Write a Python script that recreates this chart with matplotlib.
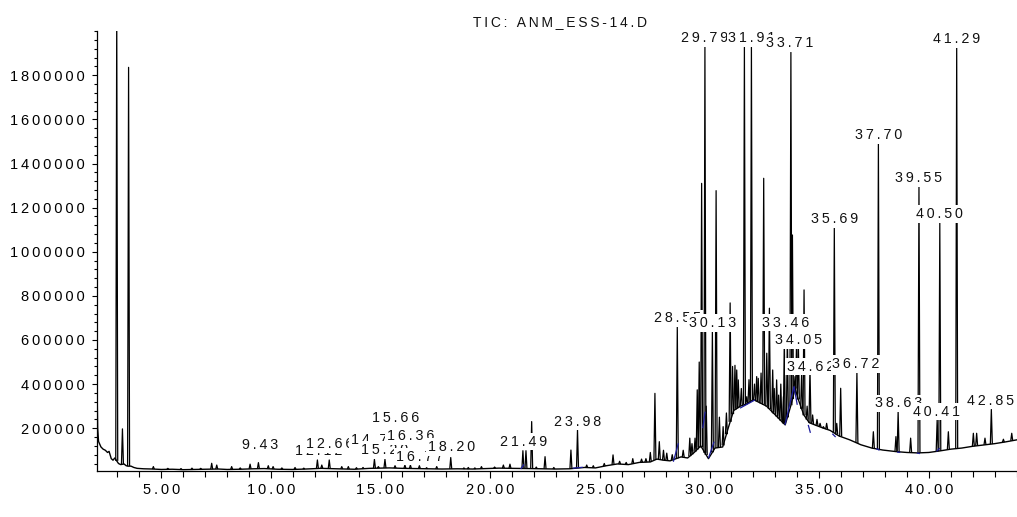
import numpy as np
import matplotlib
matplotlib.use("Agg")
import matplotlib.pyplot as plt
from matplotlib.collections import LineCollection
from matplotlib.ticker import FixedLocator, MultipleLocator, FuncFormatter

plt.rcParams['font.family'] = ['Liberation Sans', 'DejaVu Sans']

title = "TIC: ANM_ESS-14.D"

# baseline of the trace (min, abundance)
base_t = [2.07, 2.10, 2.14, 2.25, 2.35, 2.45, 2.55, 2.62, 2.72, 2.80, 2.88, 3.05, 3.15, 3.30,
          3.40, 3.48, 3.62, 3.75, 3.90, 4.20, 4.60, 5.00, 5.50, 6.00, 6.50, 7.00, 7.60, 8.00,
          8.60, 9.20, 9.70, 10.3, 11.0, 11.6, 12.3, 13.0, 13.8, 14.5, 15.4, 16.0, 16.6, 17.2,
          17.8, 18.5, 19.2, 19.8, 20.4, 21.0, 21.8, 22.4, 23.0, 23.6, 24.3, 24.8, 25.3, 25.8,
          26.3, 26.8, 27.3, 27.6, 27.9, 28.2, 28.7, 29.0, 29.3, 29.6, 29.95, 30.25, 30.6, 30.85,
          31.1, 31.4, 31.7, 32.0, 32.3, 32.6, 32.9, 33.2, 33.45, 33.7, 33.9, 34.05, 34.3, 34.55,
          34.8, 35.2, 35.5, 35.9, 36.4, 36.9, 37.4, 37.9, 38.5, 39.0, 39.5, 40.0, 40.5, 41.0,
          41.5, 42.0, 42.5, 43.0, 43.5, 44.0]
base_v = [400000, 200000, 140000, 115000, 105000, 100000, 90000, 95000, 62000, 55000, 65000,
          40000, 35000, 38000, 30000, 28000, 28000, 22000, 18000, 16000, 15000, 13000, 14000,
          12000, 13000, 14000, 15000, 13000, 14000, 16000, 17000, 14000, 13000, 15000, 18000,
          16000, 14000, 18000, 20000, 18000, 17000, 16000, 15000, 16000, 15000, 17000, 19000,
          18000, 17000, 16000, 15000, 16000, 22000, 20000, 30000, 38000, 35000, 45000, 47000,
          60000, 55000, 52000, 70000, 65000, 90000, 120000, 62000, 110000, 115000, 200000,
          280000, 300000, 310000, 330000, 315000, 300000, 270000, 240000, 215000, 300000,
          380000, 330000, 260000, 225000, 215000, 200000, 190000, 165000, 147000, 125000,
          110000, 101000, 94000, 90000, 88000, 90000, 97000, 105000, 110000, 118000, 124000,
          130000, 138000, 147000]

# peaks (retention time, apex abundance)
peak_t = [2.97, 3.23, 3.51, 4.64, 5.30, 5.90, 6.40, 6.80, 7.30, 7.53, 8.21, 8.60, 9.05, 9.43,
          9.88, 10.10, 10.50, 11.10, 11.50, 12.12, 12.32, 12.66, 13.23, 13.53, 13.90, 14.20,
          14.72, 14.90, 15.20, 15.66, 16.11, 16.36, 16.77, 17.10, 17.56, 18.20, 18.80, 19.00,
          19.30, 19.60, 20.20, 20.60, 20.90, 21.49, 21.63, 21.89, 22.10, 22.50, 22.90, 23.68,
          23.98, 24.40, 24.70, 25.20, 25.60, 25.90, 26.20, 26.50, 26.90, 27.10, 27.30, 27.51,
          27.71, 27.90, 28.05, 28.30, 28.53, 28.80, 29.10, 29.20, 29.34, 29.44, 29.53, 29.64,
          29.79, 29.85, 30.13, 30.30, 30.45, 30.62, 30.77, 30.94, 31.05, 31.16, 31.24, 31.31,
          31.45, 31.59, 31.70, 31.80, 31.91, 32.05, 32.15, 32.22, 32.35, 32.47, 32.61, 32.73,
          32.88, 32.95, 33.06, 33.15, 33.25, 33.37, 33.41, 33.55, 33.71, 33.78, 33.90, 33.97,
          34.05, 34.20, 34.31, 34.45, 34.58, 34.70, 34.90, 35.04, 35.19, 35.34, 35.69, 35.80,
          35.98, 36.72, 37.47, 37.70, 38.50, 38.60, 39.17, 39.55, 40.38, 40.50, 40.89, 41.27,
          42.03, 42.18, 42.56, 42.85, 43.40, 43.78]
peak_v = [2100000, 197000, 1836000, 26000, 18000, 17000, 19000, 18000, 41000, 33000, 26000,
          20000, 37000, 44000, 30000, 26000, 20000, 22000, 19000, 56000, 33000, 56000, 26000,
          26000, 21000, 22000, 59000, 26000, 59000, 30000, 33000, 33000, 30000, 21000, 26000,
          67000, 20000, 22000, 20000, 26000, 24000, 33000, 37000, 98000, 98000, 230000, 24000,
          71000, 22000, 101000, 192000, 33000, 30000, 40000, 79000, 50000, 45000, 62000, 60000,
          62000, 90000, 358000, 139000, 100000, 87000, 80000, 660000, 100000, 155000, 130000,
          155000, 374000, 500000, 1310000, 1930000, 300000, 638000, 1277000, 250000, 207000,
          269000, 768000, 480000, 485000, 464000, 419000, 380000, 1927000, 343000, 420000,
          1927000, 400000, 434000, 426000, 450000, 1333000, 540000, 744000, 464000, 380000,
          419000, 350000, 400000, 343000, 600000, 620000, 1904000, 1076000, 434000, 600000,
          580000, 450000, 827000, 300000, 470000, 260000, 240000, 222000, 207000, 222000,
          1110000, 222000, 381000, 456000, 184000, 1490000, 162000, 275000, 155000, 1297000,
          240000, 1130000, 184000, 1928000, 177000, 177000, 155000, 285000, 150000, 177000]

# integration baselines (blue)
int_t0 = [21.39, 23.76, 28.35, 29.69, 29.95, 31.39, 33.44, 33.85, 34.50, 35.60, 37.60, 38.55, 39.45, 40.35]
int_v0 = [15000, 18600, 48000, 200000, 64000, 291000, 215000, 389000, 215000, 175000, 108000, 92000, 88000, 95000]
int_t1 = [21.54, 24.22, 28.58, 29.80, 30.21, 32.07, 33.85, 34.00, 34.60, 35.75, 37.75, 38.70, 39.60, 40.50]
int_v1 = [36000, 23000, 132000, 275000, 139000, 328000, 389000, 306000, 179000, 160000, 100000, 90000, 85000, 110000]

# peak labels
label_text = ["9.43", "12.12", "12.66", "14.72", "15.20", "15.66", "16.36", "16.77", "18.20",
              "21.49", "23.98", "28.55", "29.79", "30.13", "31.91", "33.46", "33.71", "34.05",
              "34.62", "35.69", "36.72", "37.70", "38.63", "39.55", "40.41", "40.50", "41.29",
              "42.85"]
label_t = [9.50, 12.16, 12.70, 14.72, 15.20, 15.70, 16.38, 16.77, 18.24, 21.50, 23.99, 28.53,
           29.77, 30.14, 31.93, 33.48, 33.67, 34.04, 34.60, 35.71, 36.68, 37.70, 38.60, 39.54,
           40.36, 40.48, 41.25, 42.83]
label_v = [124000, 98000, 129000, 147000, 102000, 245000, 165000, 71000, 114000, 139000,
           230000, 698000, 1968000, 676000, 1968000, 679000, 1945000, 600000, 479000, 1149000,
           491000, 1529000, 313000, 1333000, 275000, 1171000, 1963000, 325000]


def spaced(s):
    return "\u2009".join(s)


fig = plt.figure(figsize=(10.17, 5.17), dpi=100)
ax = fig.add_axes([97 / 1017, 46 / 517, 920 / 1017, 440 / 517])

ax.plot(base_t, base_v, color="black", lw=1.0, zorder=2)

foot = np.interp(peak_t, base_t, base_v)
hw = 0.045
segs = [[(t - hw, f), (t, v), (t + hw, f)] for t, v, f in zip(peak_t, peak_v, foot)]
ax.add_collection(LineCollection(segs, colors="black", linewidths=0.9, zorder=3))

blue = [[(a, b), (c, d)] for a, b, c, d in zip(int_t0, int_v0, int_t1, int_v1)]
ax.add_collection(LineCollection(blue, colors="#1c1c9c", linewidths=0.9, zorder=4))

for i, (s, t, v) in enumerate(zip(label_text, label_t, label_v)):
    ax.text(t, v, spaced(s), ha="center", va="center", fontsize=10.3, color="#111111",
            zorder=10 + i,
            bbox=dict(boxstyle="square,pad=0.12", facecolor="white", edgecolor="none"))

ax.set_xlim(2.07, 44.02)
ax.set_ylim(6000, 2000800)

ax.xaxis.set_major_locator(MultipleLocator(5))
ax.xaxis.set_minor_locator(MultipleLocator(1))
ax.xaxis.set_major_formatter(FuncFormatter(lambda x, p: spaced(f"{x:.2f}")))
ax.yaxis.set_major_locator(FixedLocator(np.arange(200000, 1800001, 200000)))
ax.yaxis.set_minor_locator(MultipleLocator(40000))
ax.yaxis.set_major_formatter(FuncFormatter(lambda y, p: spaced(f"{y:.0f}")))

for side in ["top", "right"]:
    ax.spines[side].set_visible(False)
for side in ["left", "bottom"]:
    ax.spines[side].set_linewidth(0.9)

ax.tick_params(axis="x", which="major", length=5, width=0.8, pad=4, labelsize=10.5)
ax.tick_params(axis="x", which="minor", length=4, width=0.8)
ax.tick_params(axis="y", which="major", length=3.5, width=0.8, pad=5, labelsize=10.5)
ax.tick_params(axis="y", which="minor", length=2, width=0.8)

fig.text(560 / 1017, 1 - 22 / 517, spaced(title), ha="center", va="center", fontsize=10,
         color="#111111")

fig.savefig("out.png", dpi=100)
